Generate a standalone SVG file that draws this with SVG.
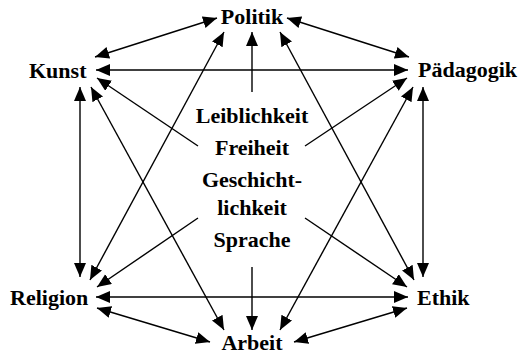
<svg xmlns="http://www.w3.org/2000/svg" width="522" height="356" viewBox="0 0 522 356">
<style>
text{font-family:"Liberation Serif","Times New Roman",serif;font-weight:bold;font-size:22px;fill:#000}
.c{text-anchor:middle}
.e line{stroke:#000;stroke-width:1.4}
.b{marker-start:url(#ah);marker-end:url(#ah)}
.s{marker-start:url(#ah)}
.t{marker-end:url(#ah)}
</style>
<defs>
<marker id="ah" markerUnits="userSpaceOnUse" markerWidth="15" markerHeight="13" refX="14" refY="6" orient="auto-start-reverse">
<path d="M0,0 L14,6 L0,12 z" fill="#000"/>
</marker>
</defs>
<g id="edges" class="e">
<line class="b" x1="95" y1="57" x2="217" y2="18"/>
<line class="b" x1="287" y1="18" x2="409" y2="57"/>
<line class="b" x1="96" y1="70" x2="408" y2="70"/>
<line class="b" x1="80" y1="87" x2="80" y2="277"/>
<line class="b" x1="423" y1="87" x2="423" y2="277"/>
<line class="b" x1="96" y1="297" x2="408" y2="297"/>
<line class="b" x1="97" y1="308" x2="210" y2="342"/>
<line class="b" x1="407" y1="308" x2="294" y2="342"/>
<line class="b" x1="224" y1="32" x2="90" y2="280"/>
<line class="b" x1="280" y1="32" x2="414" y2="280"/>
<line class="b" x1="91" y1="87" x2="224" y2="330"/>
<line class="b" x1="413" y1="87" x2="280" y2="330"/>
<line class="t" x1="252" y1="92" x2="252" y2="32"/>
<line class="t" x1="252" y1="267" x2="252" y2="330"/>
<line class="s" x1="97" y1="78" x2="198" y2="146"/>
<line class="t" x1="305" y1="218" x2="407" y2="287"/>
<line class="s" x1="407" y1="78" x2="305" y2="146"/>
<line class="t" x1="198" y1="218" x2="97" y2="287"/>
</g>
<g id="politik"><text class="c" x="252" y="24">Politik</text></g>
<g id="kunst"><text x="29" y="78">Kunst</text></g>
<g id="paedagogik"><text x="418" y="77">Pädagogik</text></g>
<g id="religion"><text x="10" y="305">Religion</text></g>
<g id="ethik"><text x="417" y="305">Ethik</text></g>
<g id="arbeit"><text class="c" x="252" y="350">Arbeit</text></g>
<g id="center">
<text class="c" x="252" y="123">Leiblichkeit</text>
<text class="c" x="252" y="155">Freiheit</text>
<text class="c" x="252" y="187">Geschicht-</text>
<text class="c" x="252" y="215">lichkeit</text>
<text class="c" x="252" y="247">Sprache</text>
</g>
</svg>
